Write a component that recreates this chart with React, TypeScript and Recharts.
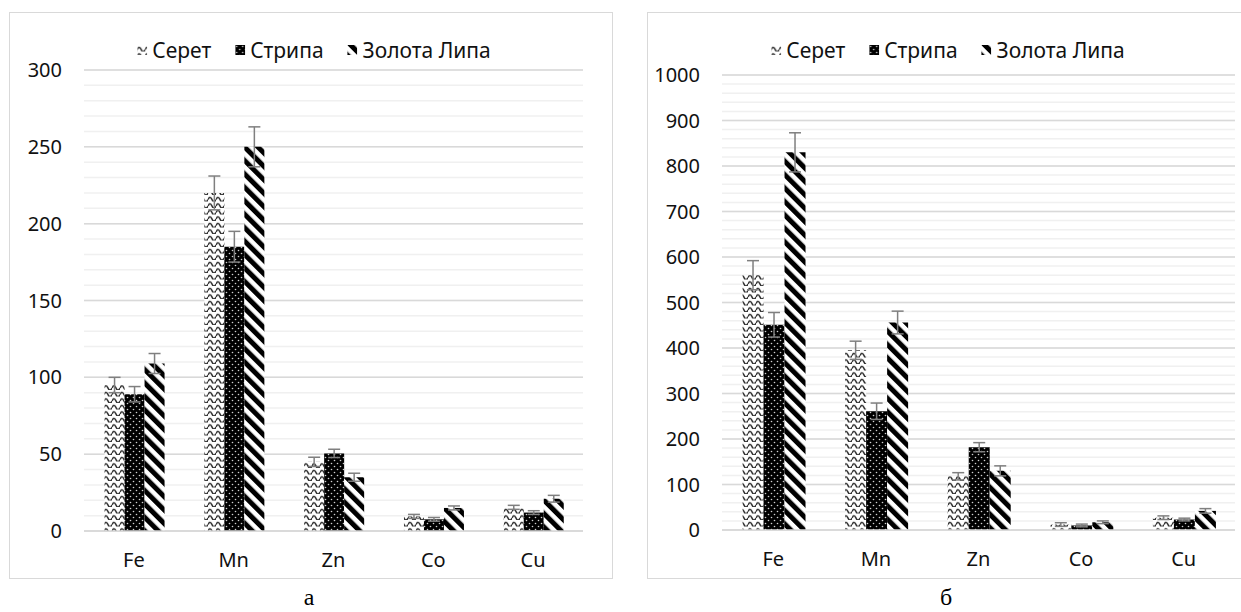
import { BarChart, Bar, XAxis, YAxis, CartesianGrid, ErrorBar } from 'recharts'

const categories = ['Fe', 'Mn', 'Zn', 'Co', 'Cu']
const seriesNames = ['Серет', 'Стрипа', 'Золота Липа']
const patternIds = ['wave', 'dots', 'diag']

// panel а
const seretA = [95, 220, 45, 9.5, 15.4]
const seretErrA = [5, 11, 3, 1.3, 1.3]
const stripaA = [89, 185, 50.5, 7.6, 12]
const stripaErrA = [5, 10, 2.7, 1.2, 1.2]
const lypaA = [109, 250, 35, 15, 21]
const lypaErrA = [6.5, 13, 2.6, 1.3, 2.2]
const ticksA = [0, 50, 100, 150, 200, 250, 300]
const minorStepA = 10

// panel б
const seretB = [560, 395, 118, 12, 27]
const seretErrB = [32, 20, 8, 4, 4]
const stripaB = [451, 261, 182, 10, 23]
const stripaErrB = [27, 18, 10, 3, 3]
const lypaB = [830, 456, 130, 17, 42]
const lypaErrB = [43, 25, 11, 3, 5]
const ticksB = [0, 100, 200, 300, 400, 500, 600, 700, 800, 900, 1000]
const minorStepB = 20

const FONT = '"Noto Sans", "Open Sans", sans-serif'
const TEXT = '#111'
const MAJOR = '#d9d9d9'
const MINOR = '#f0f0f0'

function buildData(s: number[], se: number[], st: number[], ste: number[], l: number[], le: number[]) {
  return categories.map((name, i) => ({
    name,
    s: s[i],
    sErr: se[i],
    t: st[i],
    tErr: ste[i],
    l: l[i],
    lErr: le[i],
  }))
}

function minorValues(max: number, step: number) {
  const out: number[] = []
  for (let v = 0; v <= max; v += step) out.push(v)
  return out
}

const dataA = buildData(seretA, seretErrA, stripaA, stripaErrA, lypaA, lypaErrA)
const dataB = buildData(seretB, seretErrB, stripaB, stripaErrB, lypaB, lypaErrB)

function Patterns() {
  return (
    <svg width={0} height={0} style={{ position: 'absolute' }}>
      <defs>
        <pattern id="wave" width="8" height="6.5" patternUnits="userSpaceOnUse">
          <rect width="8" height="6.5" fill="#fff" />
          <path d="M0 4.5 Q2 0.2 4 4.5 T8 4.5" fill="none" stroke="#2a2a2a" strokeWidth="1.5" />
        </pattern>
        <pattern id="dots" width="6" height="6" patternUnits="userSpaceOnUse">
          <rect width="6" height="6" fill="#000" />
          <circle cx="1.5" cy="1.5" r="0.8" fill="#d0d0d0" />
          <circle cx="4.5" cy="4.5" r="0.8" fill="#d0d0d0" />
        </pattern>
        <pattern id="diag" width="9.5" height="10" patternUnits="userSpaceOnUse" patternTransform="rotate(-45)">
          <rect width="9.5" height="10" fill="#fff" />
          <rect width="5" height="10" fill="#000" />
        </pattern>
      </defs>
    </svg>
  )
}

function LegendRow({ centerX }: { centerX: number }) {
  return (
    <div
      style={{
        position: 'absolute',
        left: centerX,
        top: 36,
        transform: 'translateX(-50%)',
        display: 'flex',
        alignItems: 'center',
        gap: 24,
        fontFamily: FONT,
        fontSize: 21,
        color: TEXT,
        whiteSpace: 'nowrap',
      }}
    >
      {seriesNames.map((n, i) => (
        <span key={n} style={{ display: 'flex', alignItems: 'center', gap: 5 }}>
          <svg width={10} height={10}>
            <rect width={10} height={10} fill={`url(#${patternIds[i]})`} />
          </svg>
          {n}
        </span>
      ))}
    </div>
  )
}

interface PanelProps {
  data: ReturnType<typeof buildData>
  ticks: number[]
  minorStep: number
  left: number
  width: number
  margin: { top: number; right: number; bottom: number; left: number }
  gap: string
}

function Panel({ data, ticks, minorStep, left, width, margin, gap }: PanelProps) {
  const max = ticks[ticks.length - 1]
  const tickStyle = { fontFamily: FONT, fontSize: 20, fill: TEXT }
  return (
    <div style={{ position: 'absolute', left, top: 0 }}>
      <BarChart width={width} height={612} data={data} margin={margin} barCategoryGap={gap} barGap={0}>
        <CartesianGrid vertical={false} horizontalValues={minorValues(max, minorStep)} stroke={MINOR} strokeWidth={1.5} />
        <CartesianGrid vertical={false} horizontalValues={ticks} stroke={MAJOR} strokeWidth={1.5} />
        <XAxis
          dataKey="name"
          height={30}
          tick={tickStyle}
          tickLine={false}
          tickSize={0}
          tickMargin={22}
          axisLine={{ stroke: MAJOR, strokeWidth: 1.5 }}
        />
        <YAxis
          type="number"
          domain={[0, max]}
          ticks={ticks}
          interval={0}
          width={60}
          tick={tickStyle}
          tickLine={false}
          tickSize={0}
          tickMargin={22}
          axisLine={false}
        />
        <Bar dataKey="s" fill="url(#wave)" isAnimationActive={false}>
          <ErrorBar dataKey="sErr" width={6} stroke="#7f7f7f" strokeWidth={1.5} isAnimationActive={false} />
        </Bar>
        <Bar dataKey="t" fill="url(#dots)" isAnimationActive={false}>
          <ErrorBar dataKey="tErr" width={6} stroke="#7f7f7f" strokeWidth={1.5} isAnimationActive={false} />
        </Bar>
        <Bar dataKey="l" fill="url(#diag)" isAnimationActive={false}>
          <ErrorBar dataKey="lErr" width={6} stroke="#7f7f7f" strokeWidth={1.5} isAnimationActive={false} />
        </Bar>
      </BarChart>
    </div>
  )
}

const captionStyle = {
  position: 'absolute' as const,
  top: 584,
  fontFamily: '"Liberation Serif", "Times New Roman", serif',
  fontSize: 24,
  color: '#000',
  transform: 'translateX(-50%)',
}

export default function App() {
  return (
    <div style={{ position: 'absolute', left: 0, top: 0, width: 1241, height: 612, overflow: 'hidden', background: '#fff' }}>
      <Patterns />
      <div style={{ position: 'absolute', left: 9, top: 12, width: 604, height: 567, border: `1.5px solid ${MAJOR}`, boxSizing: 'border-box' }} />
      <div style={{ position: 'absolute', left: 647, top: 12, width: 620, height: 567, border: `1.5px solid ${MAJOR}`, boxSizing: 'border-box' }} />
      <Panel
        data={dataA}
        ticks={ticksA}
        minorStep={minorStepA}
        left={0}
        width={620}
        margin={{ top: 70, right: 37, bottom: 51, left: 24 }}
        gap="20.6%"
      />
      <Panel
        data={dataB}
        ticks={ticksB}
        minorStep={minorStepB}
        left={620}
        width={621}
        margin={{ top: 75, right: 6, bottom: 52, left: 42 }}
        gap="20%"
      />
      <LegendRow centerX={314} />
      <LegendRow centerX={948} />
      <div style={{ ...captionStyle, left: 309 }}>а</div>
      <div style={{ ...captionStyle, left: 946 }}>б</div>
    </div>
  )
}
